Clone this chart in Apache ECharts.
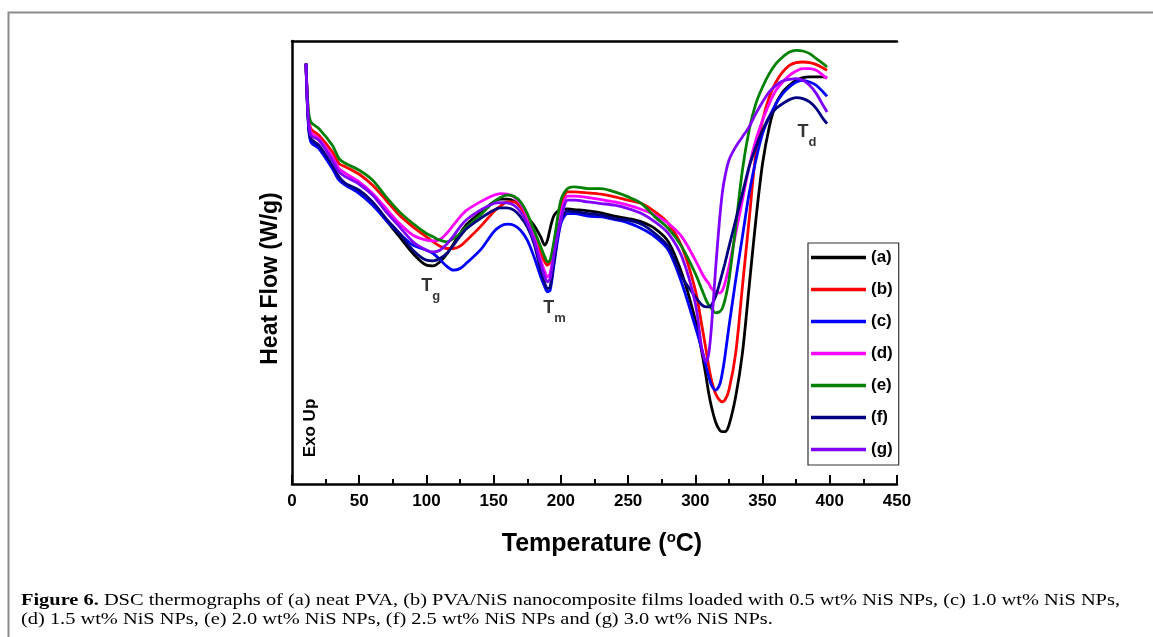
<!DOCTYPE html>
<html>
<head>
<meta charset="utf-8">
<script src="https://cdn.jsdelivr.net/npm/echarts@6/dist/echarts.min.js"></script>
<style>
html,body{margin:0;padding:0;background:#fff;}
#chart{width:1153px;height:637px;}
</style>
</head>
<body>
<div id="chart"></div>
<script>
// Temperature (°C)
const temps = [10.4, 12, 14, 20, 30, 35, 40, 50, 60, 70, 80, 90, 100, 105, 110, 115, 120, 125, 130, 140,
  150, 155, 160, 165, 170, 175, 180, 185, 188, 190, 192, 195, 200, 205, 210, 220, 230, 240, 250, 260,
  270, 280, 290, 300, 305, 308, 310, 312, 315, 318, 320, 322, 325, 330, 335, 340, 345, 350, 355, 360,
  365, 370, 375, 380, 385, 390, 395, 398];
// Heat flow (arbitrary units, exo up)
const seriesA = [126.2,110.2,103.2,101.2,95.2,91.7,89.7,87.7,84.2,79.2,74.2,69.2,65.7,65.5,66.7,69.0,72.0,75.2,78.0,81.4,84.7,85.5,85.5,85.0,83.2,80.2,77.7,74.2,71.7,73.2,76.7,80.7,82.4,82.6,82.4,82.0,81.4,80.4,79.7,78.7,76.7,72.7,63.2,49.2,39.2,32.2,27.2,23.2,18.7,16.2,15.7,15.7,17.7,26.2,39.2,59.2,79.2,96.2,107.2,114.2,117.7,119.7,121.2,122.0,122.2,122.2,122.2,122.0];
const seriesB = [126.2,112.2,106.7,104.7,99.7,96.2,95.2,93.0,89.7,85.2,80.7,77.2,74.2,72.7,71.4,70.7,70.7,71.4,73.2,77.2,81.7,83.4,84.7,84.7,83.2,79.2,74.2,69.2,66.7,65.7,66.7,72.2,83.2,87.7,87.7,87.4,87.0,86.2,85.2,84.2,81.7,78.2,71.2,58.2,47.2,40.2,35.2,31.2,27.2,25.2,24.7,25.2,28.2,39.2,59.2,79.2,99.2,109.2,116.2,120.7,123.7,125.7,126.5,126.7,126.5,125.9,124.9,124.2];
const seriesC = [126.2,109.2,102.7,100.7,94.7,91.2,89.7,87.2,83.7,79.2,75.2,71.7,70.2,69.2,67.4,65.4,64.2,64.7,66.4,70.2,75.7,77.4,78.0,77.7,76.2,73.2,68.2,62.2,59.2,57.7,58.2,66.2,78.2,81.2,81.2,80.4,80.2,79.4,78.4,76.7,74.2,70.2,60.2,47.2,40.2,35.2,32.2,29.7,28.2,29.7,33.2,38.2,47.2,61.2,74.2,87.2,97.2,105.2,110.2,114.2,117.2,119.2,120.7,121.2,120.7,119.7,117.7,116.4];
const seriesD = [126.2,111.7,105.7,103.7,98.2,94.7,93.2,90.7,87.2,82.7,78.2,74.7,73.2,73.0,73.4,75.2,77.7,80.2,82.2,84.7,86.7,87.2,87.0,86.2,84.2,80.2,74.2,67.2,63.7,62.2,63.2,70.2,81.2,86.4,86.4,86.0,85.4,84.7,83.7,82.4,80.7,78.2,74.2,67.2,63.2,61.2,60.2,58.7,57.7,57.4,58.0,60.2,65.2,75.2,85.2,95.2,103.2,109.2,114.2,118.2,120.7,122.7,124.0,124.7,124.7,124.2,122.7,121.7];
const seriesE = [126.2,113.2,108.7,106.7,101.7,97.7,96.2,94.2,91.2,86.2,81.7,78.2,75.2,74.2,73.2,72.7,73.7,75.2,77.2,80.7,84.7,86.0,86.7,86.4,84.7,81.2,76.2,71.2,68.2,66.7,67.2,73.2,85.2,88.7,89.2,88.7,88.7,87.7,86.2,84.2,80.2,76.7,71.2,63.2,58.2,55.2,53.7,52.7,51.4,51.7,52.7,55.2,61.2,77.2,94.2,106.2,114.2,119.2,123.2,126.2,128.2,129.7,130.2,130.0,129.2,127.7,126.2,125.2];
const seriesF = [126.2,109.7,103.7,101.7,95.7,92.2,90.2,88.2,84.7,79.7,75.2,70.2,67.2,67.0,67.7,69.2,71.6,74.4,76.7,79.7,82.2,82.9,82.9,82.2,80.2,77.2,72.2,64.2,60.2,58.7,59.2,67.2,79.2,82.0,81.7,81.2,80.7,79.7,79.2,78.0,75.2,71.2,62.2,56.2,53.7,53.2,53.2,53.7,56.2,60.2,63.2,66.2,71.2,79.2,87.2,95.2,101.2,106.2,110.2,112.7,114.2,115.4,116.0,115.7,114.7,112.7,109.7,108.2];
const seriesG = [126.2,110.7,104.7,103.2,97.2,93.7,92.2,90.0,86.7,81.7,77.2,72.7,70.2,69.7,70.2,72.0,74.4,77.2,79.4,82.2,84.2,84.5,84.4,83.7,81.7,78.2,73.2,66.2,62.2,60.7,61.7,69.2,79.2,85.2,85.2,84.7,84.2,83.7,82.7,81.2,78.7,75.2,68.2,54.2,40.2,36.7,39.2,47.2,64.2,79.2,87.2,92.2,97.2,101.2,104.2,107.2,111.2,114.7,117.7,119.7,121.0,121.5,121.7,121.2,119.7,117.2,113.7,111.7];

const seriesNames = ['(a)', '(b)', '(c)', '(d)', '(e)', '(f)', '(g)'];
const seriesValues = [seriesA, seriesB, seriesC, seriesD, seriesE, seriesF, seriesG];
const seriesColors = ['#000000', '#ff0000', '#0000ff', '#ff00ff', '#008000', '#000080', '#8000ff'];

// Peak annotations (subscript letter, temperature, heat flow)
const annoSub = ['g', 'm', 'd'];
const annoT = [103.2, 195.2, 383];
const annoV = [57.9, 51.3, 104.1];

const xTicksMin = 0, xTicksMax = 450, xTicksStep = 50;

const captionBold = 'Figure 6.';
const captionLine1 = ' DSC thermographs of (a) neat PVA, (b) PVA/NiS nanocomposite films loaded with 0.5 wt% NiS NPs, (c) 1.0 wt% NiS NPs,';
const captionLine2 = '(d) 1.5 wt% NiS NPs, (e) 2.0 wt% NiS NPs, (f) 2.5 wt% NiS NPs and (g) 3.0 wt% NiS NPs.';

const FONT = "'Liberation Sans', Arial, Helvetica, sans-serif";
const SERIF = "'Liberation Serif', 'Times New Roman', serif";

const chart = echarts.init(document.getElementById('chart'), null, {renderer: 'canvas'});

const lineSeries = seriesNames.map((name, i) => ({
  name: name,
  type: 'line',
  data: temps.map((t, k) => [t, seriesValues[i][k]]),
  symbol: 'none',
  smooth: 0.3,
  lineStyle: {color: seriesColors[i], width: 2.8},
  itemStyle: {color: seriesColors[i]},
  z: 3
}));

const annoSeries = {
  type: 'scatter',
  data: annoT.map((t, i) => ({value: [t, annoV[i]], sub: annoSub[i]})),
  symbolSize: 0,
  silent: true,
  label: {
    show: true,
    position: 'inside',
    formatter: p => '{t|T}{s|' + p.data.sub + '}',
    rich: {
      t: {fontFamily: FONT, fontWeight: 'bold', fontSize: 18, color: '#000', padding: [0, 0, 10, 0]},
      s: {fontFamily: FONT, fontWeight: 'bold', fontSize: 13, color: '#000', padding: [10, 0, 0, 0]}
    }
  },
  z: 5
};

// Caption: serif text stretched horizontally so line 1 spans x=21..1120 like the reference
const measureCtx = document.createElement('canvas').getContext('2d');
const capSize = 16;
const capFont = capSize + 'px ' + SERIF, capBoldFont = 'bold ' + capSize + 'px ' + SERIF;
measureCtx.font = capBoldFont;
let natW = measureCtx.measureText(captionBold).width;
measureCtx.font = capFont;
natW += measureCtx.measureText(captionLine1).width;
const capLeft = 21, capRight = 1120;
const capScale = (capRight - capLeft) / natW;
const captionGraphics = [
  {type: 'text', silent: true, x: capLeft, y: 601, scaleX: capScale,
    style: {text: '{b|' + captionBold + '}' + captionLine1, font: capFont, fill: '#000', verticalAlign: 'middle',
      rich: {b: {fontFamily: SERIF, fontWeight: 'bold', fontSize: capSize, fill: '#000'}}}},
  {type: 'text', silent: true, x: capLeft, y: 620, scaleX: capScale,
    style: {text: captionLine2, font: capFont, fill: '#000', verticalAlign: 'middle'}}
];

const option = {
  animation: false,
  backgroundColor: '#fff',
  grid: {left: 292, top: 41, right: 256, bottom: 153, containLabel: false},
  xAxis: [{
    type: 'value',
    min: xTicksMin, max: xTicksMax, interval: xTicksStep,
    axisLine: {show: true, onZero: false, lineStyle: {color: '#000', width: 2.5}},
    axisTick: {show: true, inside: true, length: 9, lineStyle: {color: '#000', width: 2}},
    minorTick: {show: true, splitNumber: 2, length: 5, lineStyle: {color: '#000', width: 2}},
    splitLine: {show: false},
    axisLabel: {color: '#000', fontFamily: FONT, fontWeight: 'bold', fontSize: 17, margin: 9},
    name: '{a|Temperature (}{s|o}{a|C)}',
    nameLocation: 'middle',
    nameGap: 46,
    nameTextStyle: {
      padding: [0, 0, 0, 15],
      rich: {
        a: {fontFamily: FONT, fontWeight: 'bold', fontSize: 25, color: '#000'},
        s: {fontFamily: FONT, fontWeight: 'bold', fontSize: 15, color: '#000', padding: [0, 0, 14, 0]}
      }
    }
  }, {
    type: 'value', position: 'top',
    min: xTicksMin, max: xTicksMax,
    axisLine: {show: true, onZero: false, lineStyle: {color: '#000', width: 2.5}},
    axisTick: {show: false}, axisLabel: {show: false}, splitLine: {show: false}
  }],
  yAxis: {
    type: 'value', min: 0, max: 133,
    axisLine: {show: true, onZero: false, lineStyle: {color: '#000', width: 2.5}},
    axisTick: {show: false}, axisLabel: {show: false}, splitLine: {show: false},
    name: 'Heat Flow (W/g)',
    nameLocation: 'middle',
    nameGap: 10,
    nameTextStyle: {fontFamily: FONT, fontWeight: 'bold', fontSize: 23, color: '#000', padding: [0, 32, 0, 0]}
  },
  legend: {
    data: seriesNames,
    orient: 'vertical',
    left: 808, top: 243,
    padding: [6, 6, 7, 3],
    icon: 'rect',
    itemWidth: 55, itemHeight: 3.5, itemGap: 15,
    borderColor: '#333', borderWidth: 1.2,
    textStyle: {fontFamily: FONT, fontWeight: 'bold', fontSize: 17, color: '#000', lineHeight: 14}
  },
  graphic: [
    {type: 'polyline', silent: true, shape: {points: [[8.5, 637], [8.5, 12.5], [1153, 12.5]]}, style: {stroke: '#8c8c8c', lineWidth: 2, fill: null}},
    {type: 'text', silent: true, x: 310, y: 428, rotation: Math.PI / 2,
      style: {text: 'Exo Up', font: 'bold 17px ' + FONT, fill: '#000', align: 'center', verticalAlign: 'middle'}}
  ].concat(captionGraphics),
  series: lineSeries.concat([annoSeries])
};

chart.setOption(option);
</script>
</body>
</html>
